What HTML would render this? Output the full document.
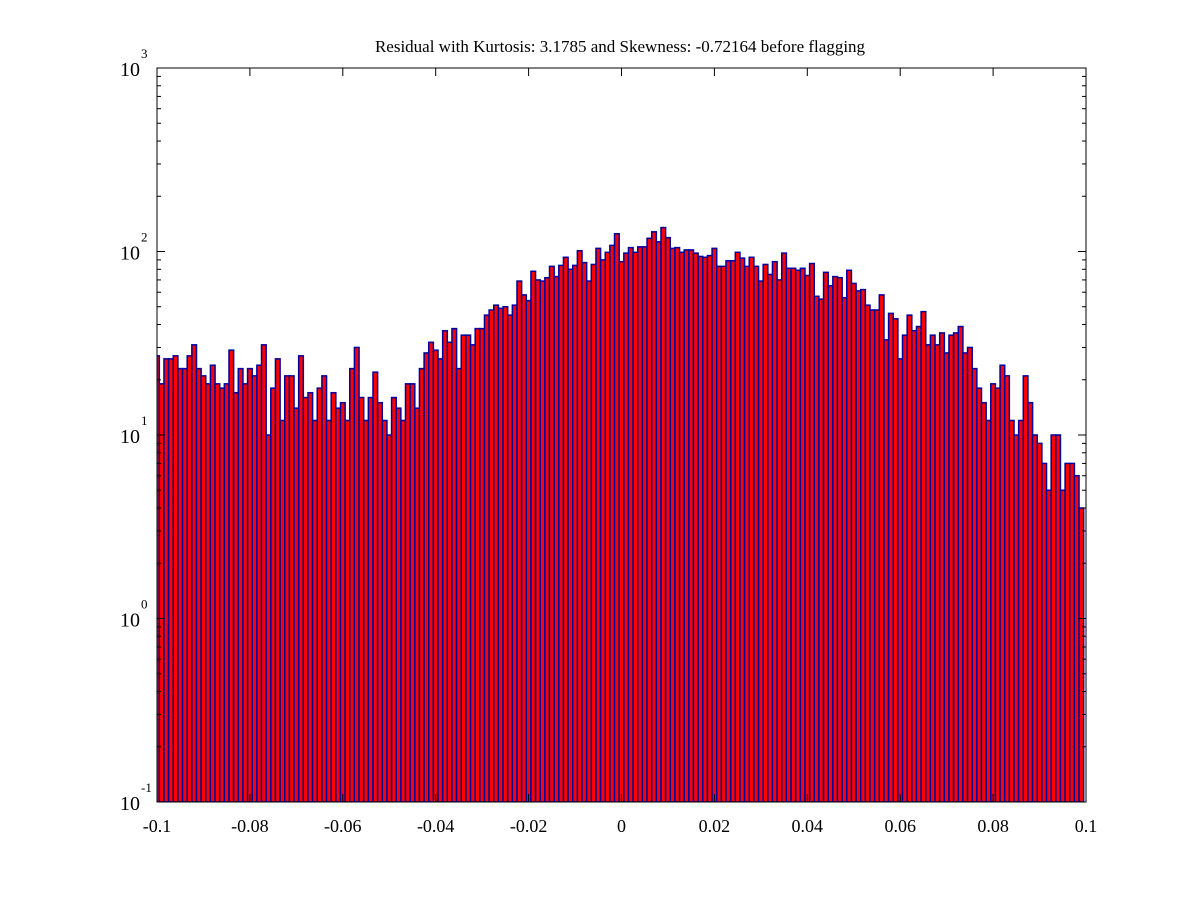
<!DOCTYPE html>
<html><head><meta charset="utf-8"><style>
html,body{margin:0;padding:0;background:#fff;}
svg{display:block;}
text{font-family:"Liberation Serif",serif;fill:#000;}
</style></head><body>
<svg id="chart" width="1200" height="900" viewBox="0 0 1200 900" xmlns="http://www.w3.org/2000/svg">
<rect x="0" y="0" width="1200" height="900" fill="#fff"/>
<text x="620" y="52" font-size="17" text-anchor="middle">Residual with Kurtosis: 3.1785 and Skewness: -0.72164 before flagging</text>
<g id="bars"></g>
<g id="axes"></g>
</svg>
<script>
const binStart = -0.1;
const binStep = 0.001;
const counts = [27,19,26,26,27,23,23,27,31,23,
21,19,24,19,18,19,29,17,23,19,
23,21,24,31,10,18,26,12,21,21,
14,27,16,17,12,18,21,12,17,14,
15,12,23,30,16,12,16,22,15,12,
10,16,14,12,19,19,14,23,28,32,
29,26,37,32,38,23,35,35,31,38,
38,45,48,51,49,50,45,51,69,58,
54,78,70,69,72,83,73,84,93,80,
84,101,87,69,85,104,90,99,108,125,
88,98,105,99,106,106,118,128,113,135,
119,104,105,99,102,102,98,94,93,95,
104,83,83,89,89,99,92,83,93,83,
69,85,75,88,70,98,81,81,79,81,
74,86,57,55,77,65,73,72,56,79,
67,61,62,51,48,48,58,33,46,43,
26,35,45,37,39,47,31,35,31,36,
28,35,36,39,28,30,23,18,15,12,
19,18,24,21,12,10,12,21,15,10,
9,7,5,10,10,5,7,7,6,4];
const xTicks = [-0.1,-0.08,-0.06,-0.04,-0.02,0,0.02,0.04,0.06,0.08,0.1];
const xTickLabels = ["-0.1","-0.08","-0.06","-0.04","-0.02","0","0.02","0.04","0.06","0.08","0.1"];
const yDecades = [-1,0,1,2,3];

const L=157,R=1086,T=68,B=802;
const xMin=-0.1,xMax=0.1,yMinE=-1,yMaxE=3;
const NS="http://www.w3.org/2000/svg";
function xs(v){return L+(v-xMin)/(xMax-xMin)*(R-L);}
function ys(v){return B-(Math.log10(v)-yMinE)/(yMaxE-yMinE)*(B-T);}
function mk(tag,attrs,parent){const e=document.createElementNS(NS,tag);for(const k in attrs)e.setAttribute(k,attrs[k]);parent.appendChild(e);return e;}

const svg=document.getElementById('chart');
const defs=mk('defs',{},svg);
const cp=mk('clipPath',{id:'plotclip'},defs);
mk('rect',{x:L,y:T,width:R-L,height:B-T},cp);
const bars=document.getElementById('bars');
bars.setAttribute('clip-path','url(#plotclip)');
const bw=xs(binStep)-xs(0);
counts.forEach((c,i)=>{
  if(c<=0)return;
  const cx=xs(binStart+i*binStep);
  const y=ys(c);
  const r=mk('rect',{x:cx-bw/2,y:y,width:bw,height:B-y,fill:'#ff0000',stroke:'#00009c','stroke-width':1.5},bars);
  
  
});

const axes=document.getElementById('axes');
const frame=mk('rect',{x:L,y:T,width:R-L,height:B-T,fill:'none',stroke:'#000','stroke-width':1},axes);


xTicks.forEach((v,i)=>{
  const x=xs(v);
  const t1=mk('line',{x1:x,y1:B,x2:x,y2:B-8,stroke:'#000'},axes);
  
  
  const t2=mk('line',{x1:x,y1:T,x2:x,y2:T+8,stroke:'#000'},axes);
  
  
  const lb=mk('text',{x:x,y:B+30,'font-size':18,'text-anchor':'middle'},axes);
  lb.textContent=xTickLabels[i];
  
  
});
yDecades.forEach((e,i)=>{
  const y=ys(Math.pow(10,e));
  const t1=mk('line',{x1:L,y1:y,x2:L+8,y2:y,stroke:'#000'},axes);
  
  
  const t2=mk('line',{x1:R,y1:y,x2:R-8,y2:y,stroke:'#000'},axes);
  
  
  const lb=mk('text',{x:140,y:y+8,'font-size':20,'text-anchor':'end'},axes);
  lb.textContent='10';
  
  
  const sp=mk('text',{x:141,y:y-10,'font-size':13,'text-anchor':'start'},axes);
  sp.textContent=String(e);
  
  
  if(i<yDecades.length-1){
    for(let m=2;m<=9;m++){
      const ym=ys(m*Math.pow(10,e));
      const a=mk('line',{x1:L,y1:ym,x2:L+4,y2:ym,stroke:'#000'},axes);
      
      
      const b=mk('line',{x1:R,y1:ym,x2:R-4,y2:ym,stroke:'#000'},axes);
      
      
    }
  }
});
</script>
</body></html>
